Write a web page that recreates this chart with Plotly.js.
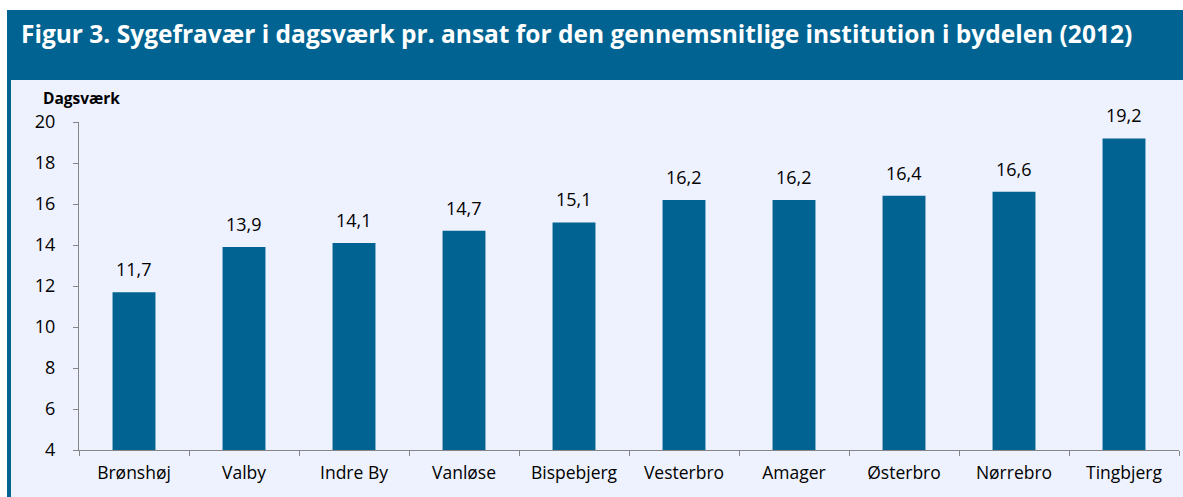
<!DOCTYPE html>
<html>
<head>
<meta charset="utf-8">
<script src="https://cdn.plot.ly/plotly-3.0.1.min.js"></script>
<style>html,body{margin:0;padding:0;background:#fff;}#chart{width:1183px;height:497px;}</style>
</head>
<body>
<div id="chart"></div>
<script>
const categories = ["Brønshøj","Valby","Indre By","Vanløse","Bispebjerg","Vesterbro","Amager","Østerbro","Nørrebro","Tingbjerg"];
const values = [11.7, 13.9, 14.1, 14.7, 15.1, 16.2, 16.2, 16.4, 16.6, 19.2];
const yTicks = [4, 6, 8, 10, 12, 14, 16, 18, 20];
const titleText = "Figur 3. Sygefravær i dagsværk pr. ansat for den gennemsnitlige institution i bydelen (2012)";
const yLabel = "Dagsværk";

const W = 1183, H = 497;
const mL = 79, mR = 4, mT = 122, mB = 47;
const pw = W - mL - mR, ph = H - mT - mB;
const px = x => (x - mL) / pw;
const py = y => (H - mB - y) / ph;

const blue = "#006391";
const font = "'Open Sans', Lato, sans-serif";

const trace = {
  type: "bar",
  x: categories,
  y: values,
  marker: {color: blue},
  hoverinfo: "none"
};

const labelAnnotations = categories.map((c, i) => ({
  x: c, y: values[i], xref: "x", yref: "y",
  text: values[i].toFixed(1).replace(".", ","),
  showarrow: false, yanchor: "bottom", yshift: 9,
  font: {family: font, size: 18, color: "#000"}
}));

const layout = {
  width: W, height: H,
  margin: {l: mL, r: mR, t: mT, b: mB, pad: 0},
  paper_bgcolor: "#ffffff",
  plot_bgcolor: "rgba(0,0,0,0)",
  bargap: 0.61,
  showlegend: false,
  separators: ",.",
  title: {
    text: "<b>" + titleText + "</b>",
    font: {family: font, size: 24.5, color: "#ffffff"},
    xref: "container", yref: "container",
    x: 21 / W, xanchor: "left",
    y: 1 - 34 / H, yanchor: "middle"
  },
  xaxis: {
    type: "category",
    showline: true, linecolor: "#868686", linewidth: 1,
    ticks: "outside", tickson: "boundaries", ticklen: 5, tickcolor: "#868686",
    ticklabelstandoff: 7,
    tickfont: {family: font, size: 17.5, color: "#000"},
    showgrid: false, zeroline: false, fixedrange: true
  },
  yaxis: {
    range: [4, 20],
    tickvals: yTicks,
    showline: true, linecolor: "#868686", linewidth: 1,
    ticks: "outside", ticklen: 5, tickcolor: "#868686",
    ticklabelstandoff: 14,
    tickfont: {family: font, size: 18, color: "#000"},
    showgrid: false, zeroline: false, fixedrange: true
  },
  shapes: [
    {type: "rect", xref: "paper", yref: "paper", layer: "below",
     x0: px(7), x1: px(W + 5), y0: py(10), y1: py(80), fillcolor: blue, line: {width: 0}},
    {type: "rect", xref: "paper", yref: "paper", layer: "below",
     x0: px(7), x1: px(11), y0: py(80), y1: py(H + 5), fillcolor: blue, line: {width: 0}},
    {type: "rect", xref: "paper", yref: "paper", layer: "below",
     x0: px(11), x1: px(W + 5), y0: py(80), y1: py(H + 5), fillcolor: "#eef2fe", line: {width: 0}}
  ],
  annotations: [
    {text: "<b>" + yLabel + "</b>", xref: "paper", yref: "paper",
     x: px(41), xanchor: "left", y: py(111), yanchor: "bottom",
     showarrow: false, font: {family: font, size: 15.5, color: "#000"}}
  ].concat(labelAnnotations)
};

Plotly.newPlot("chart", [trace], layout, {displayModeBar: false, staticPlot: true});
</script>
</body>
</html>
